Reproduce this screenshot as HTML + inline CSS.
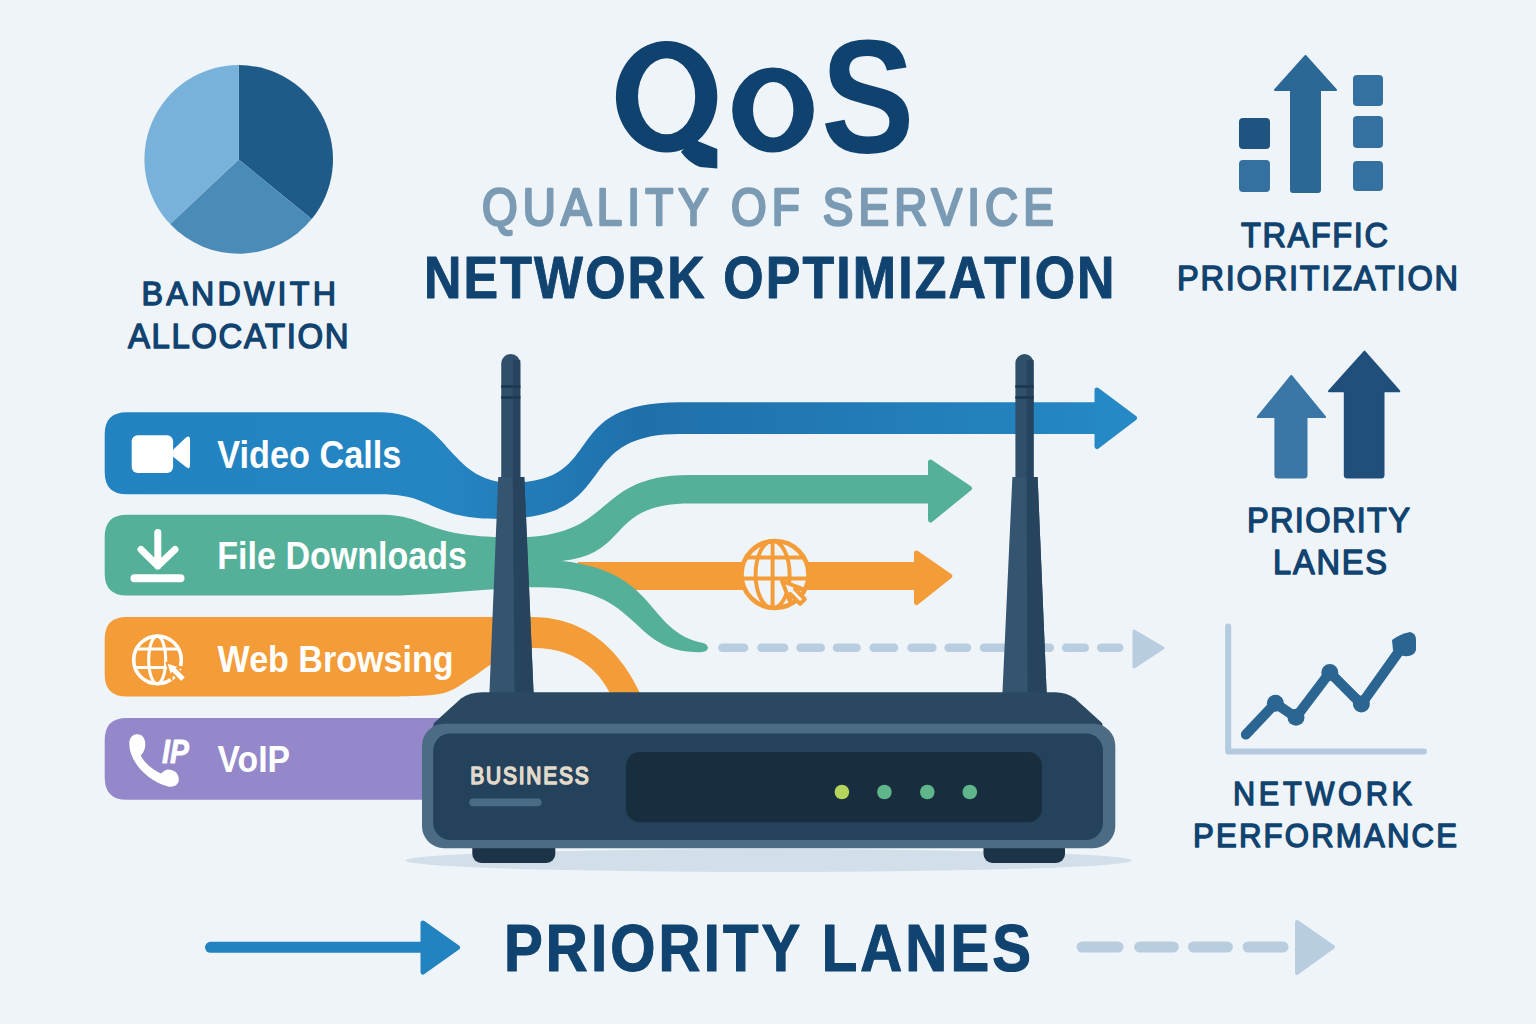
<!DOCTYPE html>
<html><head><meta charset="utf-8"><title>QoS</title>
<style>
html,body{margin:0;padding:0;width:1536px;height:1024px;overflow:hidden;background:#eff4f9;}
svg{display:block;}
text{font-family:"Liberation Sans",sans-serif;}
</style></head>
<body>
<svg width="1536" height="1024" viewBox="0 0 1536 1024">
<rect width="1536" height="1024" fill="#eff4f9"/>
<path d="M238.7 159.4 L238.7 65.1 A94.3 94.3 0 0 1 311.7 219.1 Z" fill="#1f5b88"/>
<path d="M238.7 159.4 L311.7 219.1 A94.3 94.3 0 0 1 170.1 224.1 Z" fill="#4a8bb7"/>
<path d="M238.7 159.4 L170.1 224.1 A94.3 94.3 0 0 1 238.7 65.1 Z" fill="#78b2da"/>
<g fill="#2c6896">
<path d="M1305.5 56 L1336 90 L1320 90 L1320 190 Q1320 192 1318 192 L1293 192 Q1291 192 1291 190 L1291 90 L1275 90 Z" stroke="#2c6896" stroke-width="2" stroke-linejoin="round"/>
</g>
<rect x="1239" y="118" width="31" height="31" rx="4" fill="#1f5380"/>
<rect x="1239" y="160" width="31" height="32" rx="4" fill="#3571a0"/>
<rect x="1353" y="75" width="30" height="31" rx="4" fill="#3571a0"/>
<rect x="1353" y="116" width="30" height="32" rx="4" fill="#3571a0"/>
<rect x="1353" y="161" width="30" height="30" rx="4" fill="#3571a0"/>
<path d="M1291.3 376 L1325 417 L1306.5 417 L1306.5 475 Q1306.5 477.6 1304 477.6 L1278 477.6 Q1275.4 477.6 1275.4 475 L1275.4 417 L1257.8 417 Z" fill="#3a76a6" stroke="#3a76a6" stroke-width="2" stroke-linejoin="round"/>
<path d="M1364.5 351.6 L1399.3 391.2 L1383.5 391.2 L1383.5 475 Q1383.5 477.6 1381 477.6 L1347.4 477.6 Q1344.8 477.6 1344.8 475 L1344.8 391.2 L1329 391.2 Z" fill="#1f4f7a" stroke="#1f4f7a" stroke-width="2" stroke-linejoin="round"/>
<path d="M1228.2 626.4 L1228.2 751.6 L1423.9 751.6" fill="none" stroke="#b3cadf" stroke-width="6" stroke-linecap="round" stroke-linejoin="round"/>
<path d="M1245.9 734.5 L1275.4 703.3 L1296 717.3 L1329.8 672.5 L1361.4 704.1 L1400 650" fill="none" stroke="#2b6591" stroke-width="10" stroke-linecap="round" stroke-linejoin="round"/>
<circle cx="1275.4" cy="703.3" r="8.5" fill="#2b6591"/>
<circle cx="1296" cy="717.3" r="8.5" fill="#2b6591"/>
<circle cx="1329.8" cy="672.5" r="8.5" fill="#2b6591"/>
<circle cx="1361.4" cy="704.1" r="8.5" fill="#2b6591"/>
<path d="M1392 640 Q1400 634 1410 632 Q1416 633 1416 640 L1416 650 Q1414 657 1404 656 Q1396 655 1393 650 Z" fill="#2b6591"/>
<path d="M126.7 617 L531.6 616.9 C593.8 616.9 625.2 660.5 641.0 695.0 L644 705 L614 705 L611 695 C602.2 677.3 582.1 647.9 532.9 647.9 C529.4 648.4 519.1 648.1 512.0 651.0 C504.9 653.9 496.9 660.5 490.0 665.0 C483.1 669.5 478.7 673.6 470.9 678.3 C463.1 683.0 454.8 690.3 443.0 693.3 C431.2 696.3 407.2 696.0 400.0 696.5 L126.7 696.5 Q104.7 696.5 104.7 674.5 L104.7 639 Q104.7 617 126.7 617 Z" fill="#f39c38"/>
<path d="M578 562 L918 562 L918 590 L578 590 Z" fill="#f39c38"/>
<path d="M916.5 553 L949.8 576 L916.5 602.5 Z" fill="#f39c38" stroke="#f39c38" stroke-width="5" stroke-linejoin="round"/>
<path d="M126.7 514.7 L380 514.8 C431.3 514.8 418.7 537.4 515.0 537.4 C617.8 537.4 591.2 475.0 690.0 475.0 L932 475 L932 503.6 L690 503.6 C606.1 503.6 631.6 553.6 561.9 561.0 C659.5 571.4 644.9 630.8 703.0 643.0 C710 645 710 652.3 700 652.3 C627.0 652.3 643.9 587.3 540.0 587.3 L528.9 587.3 C500 588 450 593 400 595.6 L126.7 595.6 Q104.7 595.6 104.7 573.6 L104.7 536.7 Q104.7 514.7 126.7 514.7 Z" fill="#55b099"/>
<path d="M930.5 462 L969.5 488.4 L930.5 520 Z" fill="#55b099" stroke="#55b099" stroke-width="5" stroke-linejoin="round"/>
<defs><linearGradient id="gb" gradientUnits="userSpaceOnUse" x1="100" x2="1140" y1="0" y2="0"><stop offset="0" stop-color="#2383c1"/><stop offset="0.33" stop-color="#2585c3"/><stop offset="0.52" stop-color="#1f70aa"/><stop offset="1" stop-color="#2589c6"/></linearGradient></defs>
<path d="M126.7 412.2 L380 412.3 C449.9 412.3 446.1 482.6 511.0 482.6 C609.1 482.6 555.2 402.3 680.0 402.3 L1100 402.3 L1100 434 L680 434 C568.2 434.0 624.2 518.9 500.0 518.9 C426.9 518.9 436.8 494.3 380.0 494.3 L126.7 494.3 Q104.7 494.3 104.7 472.3 L104.7 434.2 Q104.7 412.2 126.7 412.2 Z" fill="url(#gb)"/>
<path d="M1097 390 L1134.5 418 L1097 446.5 Z" fill="#2589c6" stroke="#2589c6" stroke-width="5" stroke-linejoin="round"/>
<path d="M126.7 718 L700 718 L700 799.7 L126.7 799.7 Q104.7 799.7 104.7 777.7 L104.7 740 Q104.7 718 126.7 718 Z" fill="#9488ca"/>
<path d="M722.4 647.8 L744.1 647.8 M761.5 647.8 L784.1 647.8 M800.5 647.8 L820.8 647.8 M837.0 647.8 L856.6 647.8 M873.6 647.8 L894.1 647.8 M911.5 647.8 L932.4 647.8 M948.6 647.8 L967.0 647.8 M984.0 647.8 L1003.8 647.8 M1020.2 647.8 L1049.8 647.8 M1066.2 647.8 L1084.8 647.8 M1101.2 647.8 L1119.2 647.8" stroke="#b9cde0" stroke-width="8.5" stroke-linecap="round"/>
<path d="M1134 631 L1163 648 L1134 667 Z" fill="#b9cde0" stroke="#b9cde0" stroke-width="3" stroke-linejoin="round"/>
<circle cx="775" cy="574.5" r="33.5" fill="#eff4f9" stroke="#f39c38" stroke-width="4.6"/>
<g fill="none" stroke="#f39c38" stroke-width="3.9">
<ellipse cx="772.6" cy="574.5" rx="17" ry="33.5"/>
<path d="M772.6 541.0 L772.6 608.0"/>
<path d="M746.1 557.5 L803.9 557.5"/>
<path d="M741.7 578.5 L808.3 578.5"/>
</g>
<polygon points="782.0,581.0 802.9,589.1 795.0,589.2 804.9,599.1 800.1,603.9 790.2,594.0 790.1,601.9" fill="#eff4f9" stroke="#f39c38" stroke-width="4" stroke-linejoin="round"/>
<path d="M501.25 477 L501.25 363.525 A9.524999999999977 9.524999999999977 0 0 1 520.3 363.525 L520.3 477 Z" fill="#2f4f6a"/>
<rect x="512.8" y="360" width="7.5" height="117" fill="#264460"/>
<rect x="501.25" y="385" width="19.049999999999955" height="3" fill="#1e3a52"/>
<rect x="501.25" y="396" width="19.049999999999955" height="3" fill="#1e3a52"/>
<path d="M498.25 477 L524.3 477 L533.6 694 L489.4 694 Z" fill="#34546f"/>
<path d="M512.8 477 L524.3 477 L533.6 694 L514.5 694 Z" fill="#26445e"/>
<path d="M1015.4 477 L1015.4 363.09999999999997 A9.099999999999966 9.099999999999966 0 0 1 1033.6 363.09999999999997 L1033.6 477 Z" fill="#2f4f6a"/>
<rect x="1026.5" y="360" width="7.1" height="117" fill="#264460"/>
<rect x="1015.4" y="385" width="18.199999999999932" height="3" fill="#1e3a52"/>
<rect x="1015.4" y="396" width="18.199999999999932" height="3" fill="#1e3a52"/>
<path d="M1012.4 477 L1037.6 477 L1046.7 694 L1002.4 694 Z" fill="#34546f"/>
<path d="M1026.5 477 L1037.6 477 L1046.7 694 L1027.5 694 Z" fill="#26445e"/>
<ellipse cx="768.5" cy="860.5" rx="363" ry="11.5" fill="#d2dee9"/>
<rect x="472.3" y="838" width="83" height="25" rx="9" fill="#1d3347"/>
<rect x="983.5" y="838" width="81.5" height="25" rx="9" fill="#1d3347"/>
<path d="M482 692.3 L1055 692.3 Q1066 692.3 1075 698.5 L1102 723 L1104 732 L432 732 L434 723 L461 698.5 Q470 692.3 482 692.3 Z" fill="#2a4861"/>
<rect x="422" y="723.7" width="693.3" height="124.5" rx="22" fill="#4b6c84"/>
<rect x="433.2" y="733.5" width="669.8" height="106.5" rx="17" fill="#24425b"/>
<rect x="626" y="752" width="416" height="70.3" rx="14" fill="#182e3f"/>
<circle cx="841.9" cy="792" r="7.3" fill="#b6d35c"/>
<circle cx="884.4" cy="792" r="7.3" fill="#5fb68b"/>
<circle cx="927.3" cy="792" r="7.3" fill="#5fb68b"/>
<circle cx="969.8" cy="792" r="7.3" fill="#5fb68b"/>
<rect x="469.3" y="798.4" width="72.3" height="7.8" rx="3.9" fill="#4a6b85"/>
<g transform="translate(470.3 784.2) scale(0.88 1)"><text x="0" y="0" font-size="23.8" fill="#e2dacb" font-weight="normal" stroke="#e2dacb" stroke-width="1.6" stroke-linejoin="round" textLength="134.5" lengthAdjust="spacing" style="">BUSINESS</text></g>
<rect x="131.7" y="435.2" width="41.4" height="37.9" rx="6" fill="#fff"/>
<path d="M173.1 449.7 L186 437.5 Q190 434.5 190 440 L190 465 Q190 470 186 467 L173.1 456.7 Z" fill="#fff"/>
<path d="M157.8 532.5 L157.8 566 M141 549.5 L157.8 566 L175 549.5" fill="none" stroke="#fff" stroke-width="7" stroke-linecap="round" stroke-linejoin="round"/>
<path d="M134.5 578.3 L180.5 578.3" stroke="#fff" stroke-width="8" stroke-linecap="round"/>
<circle cx="157.5" cy="659.9" r="23.8" fill="none" stroke="#fff" stroke-width="3.6"/>
<g fill="none" stroke="#fff" stroke-width="3.1">
<ellipse cx="157.2" cy="659.9" rx="8.5" ry="23.8"/>
<path d="M136.3 649.0 L178.7 649.0"/>
<path d="M134.9 667.5 L180.1 667.5"/>
</g>
<polygon points="166.3,662.5 183.6,667.8 176.8,668.2 186.0,677.4 181.2,682.2 172.0,673.0 171.6,679.8" fill="#fff" stroke="#f39c38" stroke-width="1.8" stroke-linejoin="round"/>
<path d="M137 734.2 C132 734.5 129.3 738 129.3 744 C129.3 760 145 780 168 786.5 C175 788 179 784 178.8 779 C178.5 773 174 769.5 168 769.5 C165 769.5 163 772 161 773.5 C152 770 143 761 140.8 755.3 C143 753 145.3 750 145.3 744 C145.3 738 142 734 137 734.2 Z" fill="#fff"/>
<text x="162.0" y="763.4" font-size="33.7" fill="#fff" font-weight="bold" stroke="#fff" stroke-width="0.8" stroke-linejoin="round" textLength="26.8" lengthAdjust="spacingAndGlyphs" style="font-style:italic;">IP</text>
<path d="M210.5 947.3 L425 947.3" stroke="#2383c0" stroke-width="11" stroke-linecap="round"/>
<path d="M423 923 L457.5 947.5 L423 972 Z" fill="#2383c0" stroke="#2383c0" stroke-width="5" stroke-linejoin="round"/>
<path d="M1082.2 947 L1117.9 947 M1139.8 947 L1173.2 947 M1193.6 947 L1227.3 947 M1248.2 947 L1282.9 947" stroke="#b9cde0" stroke-width="11.2" stroke-linecap="round"/>
<path d="M1297 922 L1333 947 L1297 973 Z" fill="#b9cde0" stroke="#b9cde0" stroke-width="4" stroke-linejoin="round"/>
<path d="M615.9 96.8 A50.7 55.7 0 1 0 717.3 96.8 A50.7 55.7 0 1 0 615.9 96.8 Z M638.0 96.3 A28.6 38.0 0 1 0 695.2 96.3 A28.6 38.0 0 1 0 638.0 96.3 Z" fill="#0f426e" fill-rule="evenodd"/><path d="M692.6 139 L717.3 149.1 L717.3 168.4 L700 167 Q689 163 681 152 Z" fill="#0f426e"/><path d="M732.2 110.0 A40.8 42.5 0 1 0 813.8 110.0 A40.8 42.5 0 1 0 732.2 110.0 Z M753.0 109.7 A20.2 27.8 0 1 0 793.4 109.7 A20.2 27.8 0 1 0 753.0 109.7 Z" fill="#0f426e" fill-rule="evenodd"/><text x="821.0" y="152.4" font-size="161.9" fill="#0f426e" font-weight="bold" textLength="93.5" lengthAdjust="spacingAndGlyphs" style="">S</text><g transform="translate(482.0 224.8) scale(0.88 1)"><text x="0" y="0" font-size="52.0" fill="#7b9bb4" font-weight="normal" stroke="#7b9bb4" stroke-width="2.7" stroke-linejoin="round" textLength="649.8" lengthAdjust="spacing" style="">QUALITY OF SERVICE</text></g><g transform="translate(424.0 298.0) scale(0.88 1)"><text x="0" y="0" font-size="58.9" fill="#10436f" font-weight="bold" stroke="#10436f" stroke-width="1.0" stroke-linejoin="round" textLength="784.7" lengthAdjust="spacing" style="">NETWORK OPTIMIZATION</text></g><g transform="translate(141.5 304.9) scale(0.95 1)"><text x="0" y="0" font-size="33.9" fill="#10436f" font-weight="normal" stroke="#10436f" stroke-width="1.4" stroke-linejoin="round" textLength="204.7" lengthAdjust="spacing" style="">BANDWITH</text></g><g transform="translate(128.0 347.7) scale(0.95 1)"><text x="0" y="0" font-size="34.7" fill="#10436f" font-weight="normal" stroke="#10436f" stroke-width="1.4" stroke-linejoin="round" textLength="232.1" lengthAdjust="spacing" style="">ALLOCATION</text></g><g transform="translate(1241.0 247.3) scale(0.95 1)"><text x="0" y="0" font-size="34.3" fill="#10436f" font-weight="normal" stroke="#10436f" stroke-width="1.4" stroke-linejoin="round" textLength="154.7" lengthAdjust="spacing" style="">TRAFFIC</text></g><g transform="translate(1177.0 290.3) scale(0.95 1)"><text x="0" y="0" font-size="34.3" fill="#10436f" font-weight="normal" stroke="#10436f" stroke-width="1.4" stroke-linejoin="round" textLength="295.8" lengthAdjust="spacing" style="">PRIORITIZATION</text></g><g transform="translate(1247.0 532.3) scale(0.95 1)"><text x="0" y="0" font-size="34.3" fill="#10436f" font-weight="normal" stroke="#10436f" stroke-width="1.4" stroke-linejoin="round" textLength="171.6" lengthAdjust="spacing" style="">PRIORITY</text></g><g transform="translate(1273.0 574.3) scale(0.95 1)"><text x="0" y="0" font-size="34.3" fill="#10436f" font-weight="normal" stroke="#10436f" stroke-width="1.4" stroke-linejoin="round" textLength="120.0" lengthAdjust="spacing" style="">LANES</text></g><g transform="translate(1233.0 804.9) scale(0.95 1)"><text x="0" y="0" font-size="32.3" fill="#10436f" font-weight="normal" stroke="#10436f" stroke-width="1.4" stroke-linejoin="round" textLength="188.4" lengthAdjust="spacing" style="">NETWORK</text></g><g transform="translate(1193.0 847.3) scale(0.95 1)"><text x="0" y="0" font-size="32.8" fill="#10436f" font-weight="normal" stroke="#10436f" stroke-width="1.4" stroke-linejoin="round" textLength="277.9" lengthAdjust="spacing" style="">PERFORMANCE</text></g><g transform="translate(504.0 970.6) scale(0.88 1)"><text x="0" y="0" font-size="66.0" fill="#10436f" font-weight="bold" stroke="#10436f" stroke-width="1.2" stroke-linejoin="round" textLength="598.9" lengthAdjust="spacing" style="">PRIORITY LANES</text></g><text x="217.3" y="468.3" font-size="38.5" fill="#fff" font-weight="bold" textLength="184.1" lengthAdjust="spacingAndGlyphs" style="">Video Calls</text><text x="217.3" y="569.4" font-size="38.4" fill="#fff" font-weight="bold" textLength="249.7" lengthAdjust="spacingAndGlyphs" style="">File Downloads</text><text x="217.6" y="671.5" font-size="37.1" fill="#fff" font-weight="bold" textLength="236.0" lengthAdjust="spacingAndGlyphs" style="">Web Browsing</text><text x="217.6" y="772.2" font-size="37.8" fill="#fff" font-weight="bold" textLength="72.4" lengthAdjust="spacingAndGlyphs" style="">VoIP</text>
</svg>
</body></html>
